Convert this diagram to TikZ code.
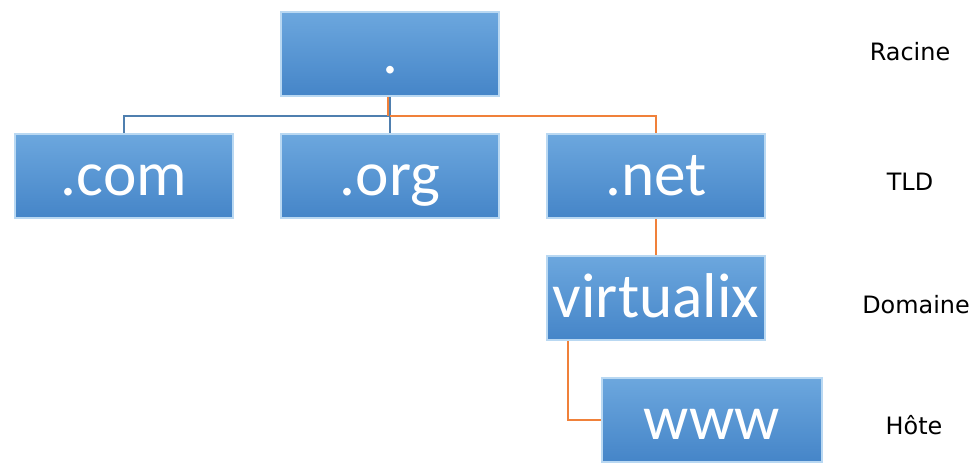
\documentclass[tikz,border=0pt]{standalone}
\usepackage{fontspec}
\usepackage{tikz}
\usepackage{xcolor}
\newfontfamily\boxfont{Carlito}
\newfontfamily\levelfont{DejaVu Sans}
\definecolor{boxtop}{HTML}{6CA7DE}
\definecolor{boxbottom}{HTML}{4585C8}
\definecolor{boxedge}{HTML}{B9D8F2}
\definecolor{linkblue}{HTML}{4F7FAF}
\definecolor{linkorange}{HTML}{F0813A}

\begin{document}
\begin{tikzpicture}[x=0.025cm,y=-0.025cm]
\tikzstyle{zone}=[rectangle,top color=boxtop,bottom color=boxbottom,draw=boxedge,line width=1.5pt,minimum width=5.45cm,minimum height=2.1cm,inner sep=0pt,text height=33pt,text depth=5pt,text=white,font=\boxfont\fontsize{45}{50}\selectfont]
\tikzstyle{level}=[font=\levelfont\fontsize{17}{20}\selectfont,text=black]
\tikzstyle{bluelink}=[draw=linkblue,line width=1.4pt]
\tikzstyle{orangelink}=[draw=linkorange,line width=1.4pt]

\useasboundingbox (0,0) rectangle (979,462);

\node[zone](Root) at (390,54){.};
\node[zone](Com) at (124,176){.com};
\node[zone](Org) at (390,176){.org};
\node[zone](Net) at (656,176){.net};
\node[zone](Virtualix) at (656,298){virtualix};
\node[zone,minimum width=5.52cm](Www) at (712,420){www};
\coordinate (Bar) at (390,116);

\node[level](Racine) at (910,52){Racine};
\node[level](TLD) at (910,182){TLD};
\node[level](Domaine) at (916,305){Domaine};
\node[level](Hote) at (914,425){Hôte};

\draw[bluelink] (Root.south) -- (Bar) -| (Com.north);
\draw[bluelink] (Bar) -- (Org.north);
\draw[orangelink] ([xshift=-1.4pt]Root.south) -- ([xshift=-1.4pt]Bar);
\draw[orangelink] (Bar) -| (Net.north);
\draw[orangelink] (Net.south) -- (Virtualix.north);
\draw[orangelink] ([xshift=0.55cm]Virtualix.south west) |- (Www.west);

\end{tikzpicture}
\end{document}
